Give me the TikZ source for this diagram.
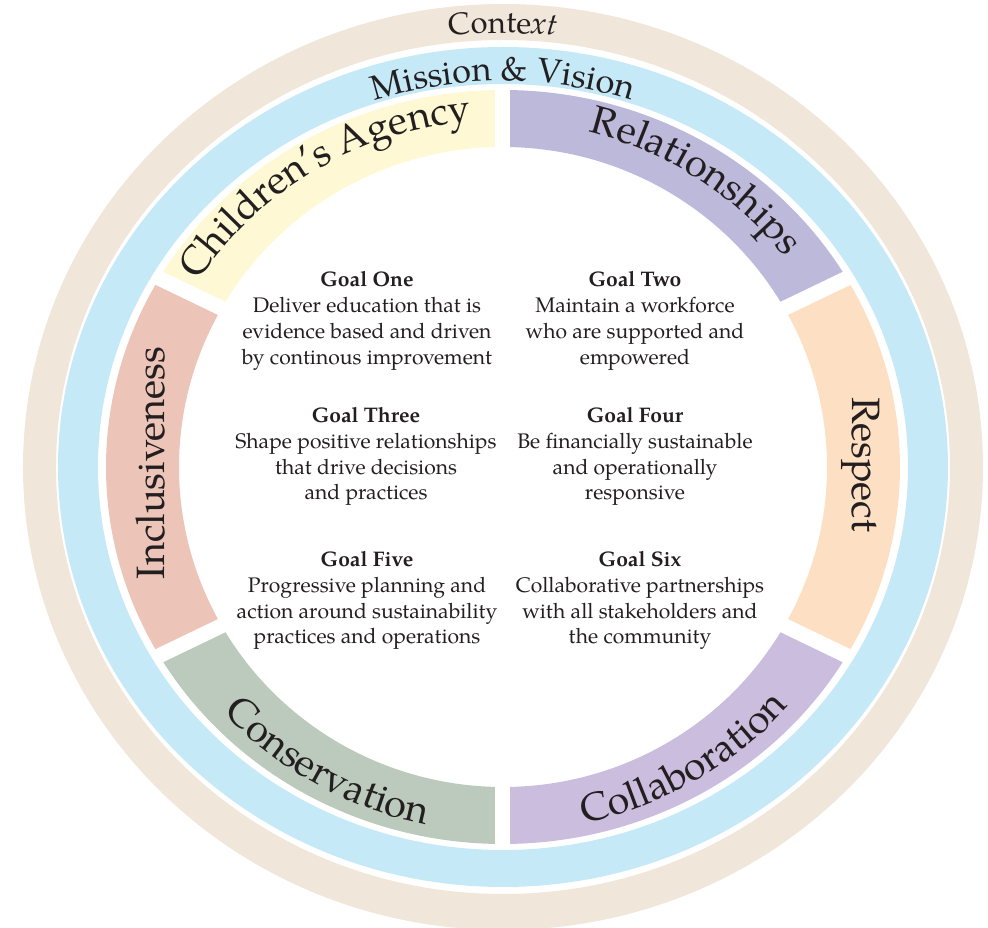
\documentclass[tikz,border=0pt]{standalone}
\usepackage{fontspec}
\setmainfont{texgyrepagella}[Extension=.otf, UprightFont=*-regular, BoldFont=*-bold, ItalicFont=*-italic, BoldItalicFont=*-bolditalic]
\usetikzlibrary{decorations.text}
\definecolor{ink}{HTML}{231F20}
\definecolor{ctxring}{HTML}{F0E6DA}
\definecolor{misring}{HTML}{C6E9F8}
\definecolor{agency}{HTML}{FEF9D4}
\definecolor{relation}{HTML}{BDB9DB}
\definecolor{respect}{HTML}{FDE0C3}
\definecolor{collab}{HTML}{CABDDD}
\definecolor{conserve}{HTML}{BBCABC}
\definecolor{inclus}{HTML}{ECC4B8}
\newcommand\ctxfont{\fontsize{17.5}{19}\selectfont\color{ink}}
\newcommand\misfont{\fontsize{19.5}{22}\selectfont\color{ink}}
\newcommand\valfont{\fontsize{22.5}{24}\selectfont\color{ink}}
\begin{document}
\begin{tikzpicture}[
    goal/.style={align=center, font=\fontsize{12}{14.7}\selectfont, text=ink},
    vallabel/.style={font=\valfont},
    gap/.style={draw=white, line width=0.3cm},
    ringtext/.style={decorate, decoration={text along path, text align=center, text={#1}}}
  ]
  \useasboundingbox (-10.06,-9.22) rectangle (9.70,9.34);
  % outer rings
  \fill[ctxring, even odd rule] (0,0) ellipse [x radius=9.6, y radius=9.26]
    (0,0) ellipse [x radius=8.94, y radius=8.54];
  \fill[misring, even odd rule] (0,0) ellipse [x radius=8.9, y radius=8.4]
    (0,0) ellipse [x radius=8.1, y radius=7.66];
  % value segments
  \fill[relation] (30:7.94 and 7.54) arc[start angle=30, end angle=90, x radius=7.94, y radius=7.54]
    -- (90:6.48 and 6.4) arc[start angle=90, end angle=30, x radius=6.48, y radius=6.4] -- cycle;
  \fill[agency] (90:7.94 and 7.54) arc[start angle=90, end angle=150, x radius=7.94, y radius=7.54]
    -- (150:6.48 and 6.4) arc[start angle=150, end angle=90, x radius=6.48, y radius=6.4] -- cycle;
  \fill[inclus] (150:7.94 and 7.54) arc[start angle=150, end angle=210, x radius=7.94, y radius=7.54]
    -- (210:6.48 and 6.4) arc[start angle=210, end angle=150, x radius=6.48, y radius=6.4] -- cycle;
  \fill[conserve] (210:7.94 and 7.54) arc[start angle=210, end angle=270, x radius=7.94, y radius=7.54]
    -- (270:6.48 and 6.4) arc[start angle=270, end angle=210, x radius=6.48, y radius=6.4] -- cycle;
  \fill[collab] (270:7.94 and 7.54) arc[start angle=270, end angle=330, x radius=7.94, y radius=7.54]
    -- (330:6.48 and 6.4) arc[start angle=330, end angle=270, x radius=6.48, y radius=6.4] -- cycle;
  \fill[respect] (-30:7.94 and 7.54) arc[start angle=-30, end angle=30, x radius=7.94, y radius=7.54]
    -- (30:6.48 and 6.4) arc[start angle=30, end angle=-30, x radius=6.48, y radius=6.4] -- cycle;
  % gaps between segments
  \draw[gap] (30:6.2 and 6.1) -- (30:8.0 and 7.6);
  \draw[gap] (90:6.2 and 6.1) -- (90:8.0 and 7.6);
  \draw[gap] (150:6.2 and 6.1) -- (150:8.0 and 7.6);
  \draw[gap] (210:6.2 and 6.1) -- (210:8.0 and 7.6);
  \draw[gap] (270:6.2 and 6.1) -- (270:8.0 and 7.6);
  \draw[gap] (330:6.2 and 6.1) -- (330:8.0 and 7.6);
  % curved labels
  \path[ringtext={|\ctxfont|Conte|\ctxfont\itshape|xt}]
    (135:9.06 and 8.68) arc[start angle=135, end angle=45, x radius=9.06, y radius=8.68];
  \path[ringtext={|\misfont|Mission {\&} Vision}]
    (150:8.16 and 7.72) arc[start angle=150, end angle=30, x radius=8.16, y radius=7.72];
  \path[ringtext={|\valfont|Children's Agency}]
    (160:7.2 and 6.95) arc[start angle=160, end angle=83, x radius=7.2, y radius=6.95];
  \path[ringtext={|\valfont|Relationships}]
    (95:7.1 and 6.9) arc[start angle=95, end angle=18, x radius=7.1, y radius=6.9];
  \path[ringtext={|\valfont|Conservation}]
    (202:7.55 and 7.3) arc[start angle=202, end angle=278, x radius=7.55, y radius=7.3];
  \path[ringtext={|\valfont|Collaboration}]
    (264:7.55 and 7.3) arc[start angle=264, end angle=338, x radius=7.55, y radius=7.3];
  \node[vallabel, rotate=90] (incl) at (-7.04,0.08) {Inclusiveness};
  \node[vallabel, rotate=-90] (resp) at (7.16,0.04) {Respect};
  % goals
  \node[goal] (goalone) at (-2.72,2.92) {\textbf{Goal One}\\Deliver education that is\\evidence based and driven\\by continous improvement};
  \node[goal] (goaltwo) at (2.64,2.92) {\textbf{Goal Two}\\Maintain a workforce\\who are supported and\\empowered};
  \node[goal] (goalthree) at (-2.74,0.21) {\textbf{Goal Three}\\Shape positive relationships\\that drive decisions\\and practices};
  \node[goal] (goalfour) at (2.64,0.21) {\textbf{Goal Four}\\Be financially sustainable\\and operationally\\responsive};
  \node[goal] (goalfive) at (-2.72,-2.67) {\textbf{Goal Five}\\Progressive planning and\\action around sustainability\\practices and operations};
  \node[goal] (goalsix) at (2.74,-2.67) {\textbf{Goal Six}\\Collaborative partnerships\\with all stakeholders and\\the community};
\end{tikzpicture}
\end{document}
